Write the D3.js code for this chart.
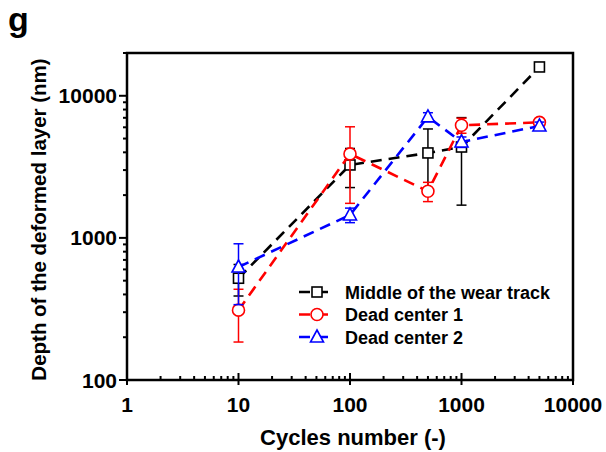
<!DOCTYPE html>
<html><head><meta charset="utf-8">
<script src="https://cdn.jsdelivr.net/npm/d3@7"></script>
<style>body{margin:0;background:#fff}svg{display:block}text{font-family:"Liberation Sans",Arial,sans-serif;font-weight:bold}</style>
</head><body><svg id="c" width="606" height="452"></svg>
<script>
const cycles = [10, 100, 500, 1000, 5000];
const middleVals = [520, 3260, 3960, 4360, 15950];
const middleErr  = [130, 1000, 1880, 2660, 0];
const dc1Vals = [310, 3900, 2130, 6200, 6500];
const dc1Err  = [125, 2150, 330, 750, 300];
const dc2Vals = [624, 1450, 7100, 4730, 6130];
const dc2Err  = [285, 170, 500, 400, 400];
const seriesNames = ["Middle of the wear track", "Dead center 1", "Dead center 2"];
const seriesColors = ["#000000", "#ff0000", "#0000ff"];
const seriesShapes = ["square", "circle", "triangle"];
const xTickLabels = ["1", "10", "100", "1000", "10000"];
const yTickLabels = ["100", "1000", "10000"];

const svg = d3.select("#c");
const L = 127, R = 573, T = 53, B = 380;
const x = d3.scaleLog().domain([1, 10000]).range([L, R]);
const y = d3.scaleLog().domain([100, 20000]).range([B, T]);

const series = [
  {vals: middleVals, err: middleErr},
  {vals: dc1Vals, err: dc1Err},
  {vals: dc2Vals, err: dc2Err}
].map((s, i) => ({...s, name: seriesNames[i], color: seriesColors[i], shape: seriesShapes[i]}));

// frame
svg.append("rect").attr("x", L).attr("y", T).attr("width", R - L).attr("height", B - T)
  .attr("fill", "none").attr("stroke", "#000").attr("stroke-width", 2.5);

// x ticks
const xMinor = [];
for (let d = 1; d < 10000; d *= 10) for (let k = 2; k <= 9; k++) xMinor.push(d * k);
svg.append("g").selectAll("line").data(xMinor).join("line")
  .attr("x1", d => x(d)).attr("x2", d => x(d)).attr("y1", B).attr("y2", B - 4)
  .attr("stroke", "#000").attr("stroke-width", 2);
svg.append("g").selectAll("line").data(xTickLabels).join("line")
  .attr("x1", d => x(+d)).attr("x2", d => x(+d)).attr("y1", B + 5).attr("y2", B - 7)
  .attr("stroke", "#000").attr("stroke-width", 2);
svg.append("g").selectAll("text").data(xTickLabels).join("text")
  .attr("x", d => x(+d)).attr("y", B + 32).attr("text-anchor", "middle")
  .attr("font-size", 21).text(d => d);

// y ticks
const yMinor = [];
for (let d = 100; d < 20000; d *= 10) for (let k = 2; k <= 9; k++) if (d * k <= 20000) yMinor.push(d * k);
svg.append("g").selectAll("line").data(yMinor).join("line")
  .attr("x1", L).attr("x2", L - 4).attr("y1", d => y(d)).attr("y2", d => y(d))
  .attr("stroke", "#000").attr("stroke-width", 2);
svg.append("g").selectAll("line").data(yTickLabels).join("line")
  .attr("x1", L).attr("x2", L - 8).attr("y1", d => y(+d)).attr("y2", d => y(+d))
  .attr("stroke", "#000").attr("stroke-width", 2);
svg.append("g").selectAll("text").data(yTickLabels).join("text")
  .attr("x", L - 10).attr("y", d => y(+d) + 7.5).attr("text-anchor", "end")
  .attr("font-size", 21).text(d => d);

// axis titles
svg.append("text").attr("x", (L + R) / 2 + 3).attr("y", 445).attr("text-anchor", "middle")
  .attr("font-size", 22).text("Cycles number (-)");
svg.append("text").attr("transform", `translate(46,${(T + B) / 2 + 3}) rotate(-90)`)
  .attr("text-anchor", "middle").attr("font-size", 20.5).text("Depth of the deformed layer (nm)");
svg.append("text").attr("x", 8).attr("y", 31).attr("font-size", 34).text("g");

function marker(g, shape, cx, cy, color) {
  if (shape === "square") {
    g.append("rect").attr("x", cx - 5).attr("y", cy - 5).attr("width", 10).attr("height", 10)
      .attr("fill", "#fff").attr("stroke", color).attr("stroke-width", 1.6);
  } else if (shape === "circle") {
    g.append("circle").attr("cx", cx).attr("cy", cy).attr("r", 6)
      .attr("fill", "#fff").attr("stroke", color).attr("stroke-width", 1.6);
  } else {
    g.append("path").attr("d", `M${cx},${cy - 7}L${cx + 6.5},${cy + 5}L${cx - 6.5},${cy + 5}Z`)
      .attr("fill", "#fff").attr("stroke", color).attr("stroke-width", 1.6);
  }
}

const plot = svg.append("g");
const line = d3.line().x(d => x(d[0])).y(d => y(d[1]));
series.forEach(s => {
  const g = plot.append("g");
  const pts = cycles.map((c, i) => [c, s.vals[i], s.err[i]]);
  g.append("path").attr("d", line(pts)).attr("fill", "none").attr("stroke", s.color)
    .attr("stroke-width", 2.6).attr("stroke-dasharray", "11,7");
  pts.forEach(p => {
    if (p[2] > 0) {
      const cx = x(p[0]), y1 = y(p[1] + p[2]), y2 = y(Math.max(p[1] - p[2], 1));
      g.append("line").attr("x1", cx).attr("x2", cx).attr("y1", y1).attr("y2", y2)
        .attr("stroke", s.color).attr("stroke-width", 1.5);
      [y1, y2].forEach(yy => g.append("line").attr("x1", cx - 5).attr("x2", cx + 5)
        .attr("y1", yy).attr("y2", yy).attr("stroke", s.color).attr("stroke-width", 1.5));
    }
  });
  pts.forEach(p => marker(g, s.shape, x(p[0]), y(p[1]), s.color));
});

// legend
const lg = svg.append("g");
series.forEach((s, i) => {
  const yy = 292 + i * 22.5;
  lg.append("line").attr("x1", 299).attr("x2", 335).attr("y1", yy).attr("y2", yy)
    .attr("stroke", s.color).attr("stroke-width", 2.6).attr("stroke-dasharray", "11,7");
  marker(lg, s.shape, 317, yy, s.color);
  lg.append("text").attr("x", 345).attr("y", yy + 6.5).attr("font-size", 18).text(s.name);
});
</script></body></html>
